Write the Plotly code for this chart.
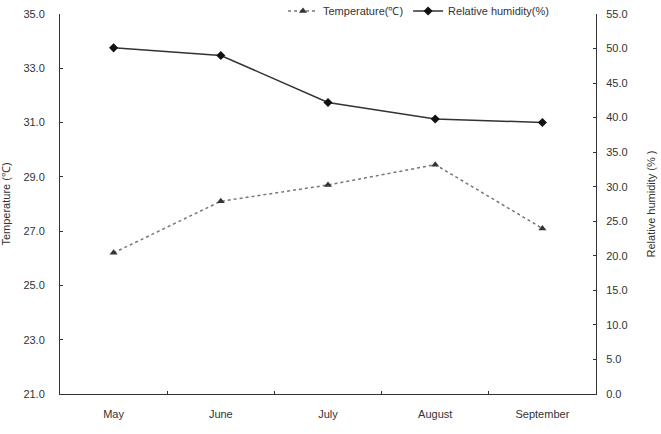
import plotly.graph_objects as go

months = ["May", "June", "July", "August", "September"]
temperature = [26.2, 28.1, 28.7, 29.45, 27.1]
humidity = [50.1, 49.0, 42.2, 39.8, 39.3]

font_family = "Liberation Sans, Arial, sans-serif"

fig = go.Figure()
fig.add_trace(go.Scatter(
    x=months, y=temperature, name="Temperature(\u2103)", mode="lines+markers",
    line=dict(color="#777777", width=1.5, dash="dot"),
    marker=dict(symbol="triangle-up", size=7, color="#333333"),
    yaxis="y"))
fig.add_trace(go.Scatter(
    x=months, y=humidity, name="Relative humidity(%)", mode="lines+markers",
    line=dict(color="#333333", width=1.5),
    marker=dict(symbol="diamond", size=7, color="#111111"),
    yaxis="y2"))

axis_common = dict(showgrid=False, zeroline=False, showline=True, linecolor="#333333",
                   linewidth=1, ticks="inside", ticklen=3, tickcolor="#333333",
                   tickfont=dict(family=font_family, size=11, color="#333333"),
                   automargin=False)

fig.update_layout(
    width=661, height=434,
    margin=dict(l=60, r=65, t=14, b=40, autoexpand=False),
    paper_bgcolor="white", plot_bgcolor="white",
    font=dict(family=font_family, size=11, color="#333333"),
    showlegend=True,
    legend=dict(orientation="h", x=283 / 661, y=1 - 11 / 434, xref="container",
                yref="container", xanchor="left", yanchor="middle",
                bgcolor="rgba(0,0,0,0)", font=dict(size=11), itemwidth=30,
                tracegroupgap=0),
    xaxis=dict(**axis_common, type="category", tickson="boundaries",
               range=[-0.5, 4.5], ticklabelstandoff=10),
    yaxis=dict(**axis_common, range=[21, 35], dtick=2, tick0=21, tickformat=".1f",
               ticklabelstandoff=12,
               title=dict(text="Temperature (\u2103)", standoff=20,
                          font=dict(size=11, color="#333333"))),
    yaxis2=dict(**axis_common, overlaying="y", side="right", range=[0, 55], dtick=5,
                tickformat=".1f", ticklabelstandoff=7,
                title=dict(text="Relative humidity (% )", standoff=20,
                           font=dict(size=11, color="#333333"))),
)

fig.write_html("out.html")
